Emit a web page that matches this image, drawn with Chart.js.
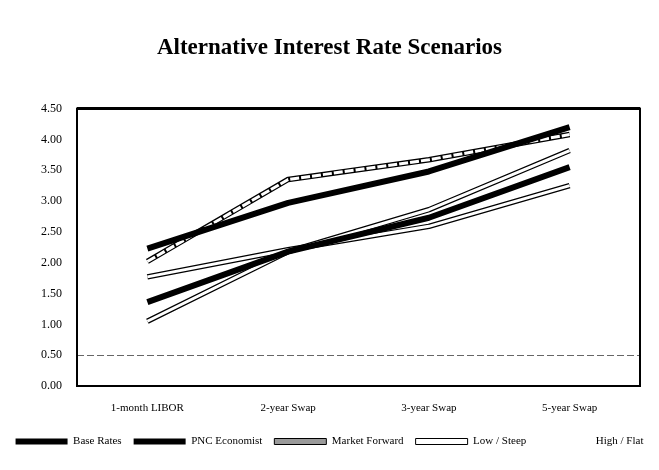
<!DOCTYPE html>
<html>
<head>
<meta charset="utf-8">
<script src="https://cdn.jsdelivr.net/npm/chart.js@4/dist/chart.umd.min.js"></script>
<style>
  html, body { margin: 0; padding: 0; background: #fff; }
  #wrap { width: 659px; height: 470px; }
</style>
</head>
<body>
<div id="wrap"><canvas id="c" width="659" height="470"></canvas></div>
<script>
// Maturities along the curve
const categories = ['1-month LIBOR', '2-year Swap', '3-year Swap', '5-year Swap'];

// Rate paths (%) for each scenario
const baseRates     = [2.23, 2.97, 3.48, 4.20];
const pncEconomist  = [1.36, 2.18, 2.73, 3.55];
const marketForward = [2.02, 3.35, 3.67, 4.08];
const lowSteep      = [1.05, 2.18, 2.86, 3.82];
const highFlat      = [1.77, 2.21, 2.59, 3.25];

const seriesNames = ['Base Rates', 'PNC Economist', 'Market Forward', 'Low / Steep', 'High / Flat'];

// Y axis range and reference level
const yMin = 0;
const yMax = 4.5;
const yStep = 0.5;
const refLevel = 0.5;

const SERIF = '"Liberation Serif", "DejaVu Serif", "Times New Roman", serif';

function solid(label, data, order) {
  return {
    label, data, order,
    borderColor: '#000', borderWidth: 6,
    borderCapStyle: 'butt', borderJoinStyle: 'round',
    pointRadius: 0, tension: 0, fill: false,
    legendFill: '#000', legendStroke: '#000', legendLineWidth: 0
  };
}
// Hollow line: a black outline with a light core drawn on top of it
function outline(label, data, order, legendFill, legendStroke) {
  return {
    label, data, order,
    borderColor: '#000', borderWidth: 5.5,
    borderCapStyle: 'butt', borderJoinStyle: 'round',
    pointRadius: 0, tension: 0, fill: false,
    legendFill, legendStroke, legendLineWidth: 1
  };
}
function core(data, order, dash) {
  return {
    label: '', data, order, inner: true,
    borderColor: '#fff', borderWidth: 3,
    borderDash: dash || [],
    borderCapStyle: 'butt', borderJoinStyle: 'round',
    pointRadius: 0, tension: 0, fill: false
  };
}

const datasets = [
  solid(seriesNames[0], baseRates, 0),
  solid(seriesNames[1], pncEconomist, 1),
  outline(seriesNames[2], marketForward, 3, '#9a9a9a', '#000'),
  core(marketForward, 2, [9, 2]),
  outline(seriesNames[3], lowSteep, 5, '#fff', '#000'),
  core(lowSteep, 4),
  outline(seriesNames[4], highFlat, 7, '#fff', '#fff'),
  core(highFlat, 6)
];

// Plot frame and dashed reference line
const framePlugin = {
  id: 'frame',
  beforeDatasetsDraw(chart) {
    const { ctx, chartArea: a, scales: { y } } = chart;
    ctx.save();
    const yy = Math.round(y.getPixelForValue(refLevel)) + 0.5;
    ctx.strokeStyle = '#666';
    ctx.lineWidth = 1;
    ctx.setLineDash([7, 3]);
    ctx.beginPath();
    ctx.moveTo(a.left, yy);
    ctx.lineTo(a.right, yy);
    ctx.stroke();
    ctx.setLineDash([]);
    ctx.strokeStyle = '#000';
    ctx.lineWidth = 2;
    ctx.strokeRect(a.left, a.top, a.right - a.left, a.bottom - a.top);
    ctx.lineWidth = 3;
    ctx.beginPath();
    ctx.moveTo(a.left, a.top);
    ctx.lineTo(a.right, a.top);
    ctx.stroke();
    ctx.restore();
  }
};

new Chart(document.getElementById('c'), {
  type: 'line',
  data: { labels: categories, datasets },
  plugins: [framePlugin],
  options: {
    responsive: false,
    animation: false,
    devicePixelRatio: 1,
    layout: { padding: { top: 0, right: 0, bottom: 13, left: 0 } },
    plugins: {
      title: {
        display: true,
        text: 'Alternative Interest Rate Scenarios',
        color: '#000',
        font: { family: SERIF, size: 23, weight: 'bold' },
        padding: { top: 34, bottom: 47 }
      },
      legend: {
        position: 'bottom',
        labels: {
          color: '#000',
          font: { family: SERIF, size: 11 },
          boxWidth: 52,
          boxHeight: 6,
          padding: 12,
          generateLabels(chart) {
            return chart.data.datasets
              .map((ds, i) => ({ ds, i }))
              .filter(o => !o.ds.inner)
              .map(({ ds, i }) => ({
                text: ds.label,
                fillStyle: ds.legendFill,
                strokeStyle: ds.legendStroke,
                lineWidth: ds.legendLineWidth,
                fontColor: '#000',
                hidden: false,
                datasetIndex: i
              }));
          }
        }
      },
      tooltip: { enabled: false }
    },
    scales: {
      x: {
        offset: true,
        grid: { display: false },
        border: { display: false },
        ticks: { color: '#000', font: { family: SERIF, size: 11 }, padding: 8, maxRotation: 0 },
        afterFit(s) { s.height = 38; }
      },
      y: {
        min: yMin,
        max: yMax,
        grid: { display: false },
        border: { display: false },
        ticks: {
          stepSize: yStep,
          color: '#000',
          font: { family: SERIF, size: 12 },
          padding: 7,
          callback: v => Number(v).toFixed(2)
        },
        afterFit(s) { s.width = 77; }
      },
      // empty right-hand margin beside the plot frame
      yRight: {
        position: 'right',
        display: true,
        grid: { display: false },
        border: { display: false },
        ticks: { display: false },
        afterFit(s) { s.width = 19; }
      }
    }
  }
});
</script>
</body>
</html>
